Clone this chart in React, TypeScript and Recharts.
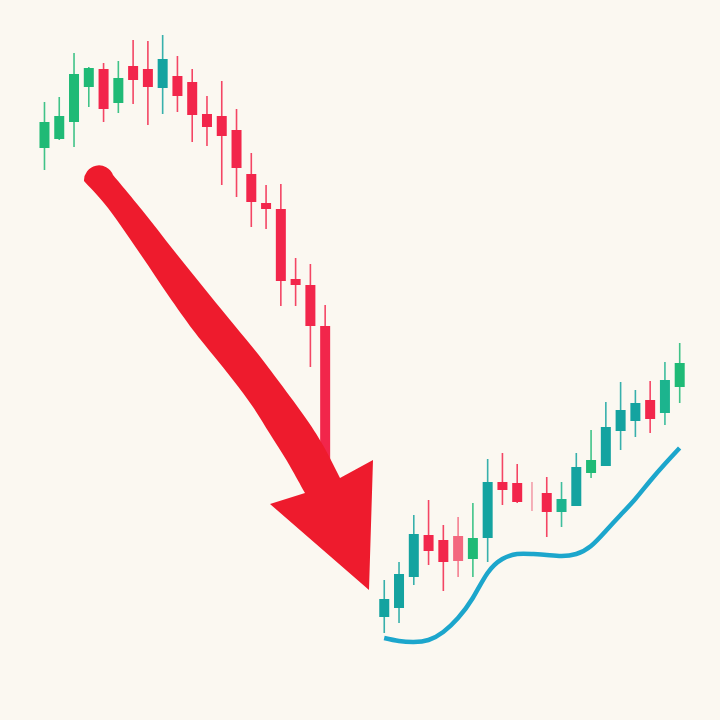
import React from "react";
import { Bar, ComposedChart, Line, XAxis, YAxis } from "recharts";

// 44 slots: a falling run, a short gap, then a recovery
const slots = Array.from({ length: 44 }, (_, i) => `t${i + 1}`);

const opens = [
  572, 581, 598, 633, 651, 617, 654, 651, 632, 644, 638, 606, 604, 590, 546, 517, 511, 441, 435, 394,
  null, null, null,
  103, 112, 143, 185, 180, 184, 161, 182, 238, 237, 224, 227, 208, 214, 247, 254, 289, 299, 320, 307, 333,
];
const closes = [
  598, 604, 646, 652, 611, 642, 640, 633, 661, 624, 605, 593, 584, 552, 518, 511, 439, 435, 394, 255,
  null, null, null,
  121, 146, 186, 169, 158, 159, 182, 238, 230, 218, 224, 208, 221, 253, 260, 293, 310, 317, 301, 340, 357,
];
const highs = [
  618, 623, 667, 653, 657, 659, 680, 679, 685, 664, 651, 624, 639, 611, 567, 535, 536, 462, 456, 415,
  null, null, null,
  140, 158, 205, 220, 195, 203, 217, 261, 267, 256, 238, 243, 238, 267, 290, 318, 338, 330, 339, 358, 377,
];
const lows = [
  550, 580, 573, 613, 598, 607, 616, 595, 606, 608, 578, 574, 535, 523, 493, 491, 414, 414, 353, 255,
  null, null, null,
  87, 97, 135, 155, 129, 143, 143, 158, 215, 217, 209, 183, 193, 214, 242, 254, 270, 283, 287, 295, 317,
];
const tones = [
  "up", "up", "up", "up", "down", "up", "down", "down", "teal", "down", "down", "down", "down", "down",
  "down", "down", "down", "down", "down", "down",
  null, null, null,
  "teal", "teal", "teal", "down", "down", "pink", "up", "teal", "down", "down", "faint", "down", "mid",
  "teal", "up", "teal", "teal", "teal", "down", "mid", "up",
];
// smoothed trend line under the recovery
const trend = [
  null, null, null, null, null, null, null, null, null, null, null, null, null, null, null, null, null,
  null, null, null, null, null, null,
  82, 79, 78, 80, 88, 102, 122, 147, 161, 166, 166, 165, 164, 166, 174, 189, 205, 221, 239, 256, 272,
];

const toneColor = {
  up: "#1fba76",
  teal: "#14a3a0",
  mid: "#1cb48e",
  down: "#f2264b",
  pink: "#f3687f",
  faint: "#f08d9c",
};

const data = slots.map((name, i) => ({
  name,
  open: opens[i],
  close: closes[i],
  high: highs[i],
  low: lows[i],
  tone: tones[i],
  trend: trend[i],
}));

function Candle(props: any) {
  const { x, y, width, height, payload } = props;
  if (!payload || payload.high == null) return null;
  const top = Math.min(y, y + height);
  const h = Math.abs(height);
  const span = payload.high - payload.low;
  const k = span ? h / span : 0;
  const py = (v: number) => top + (payload.high - v) * k;
  const cx = x + width / 2;
  const bodyTop = py(Math.max(payload.open, payload.close));
  const bodyBot = py(Math.min(payload.open, payload.close));
  const color = toneColor[payload.tone] || "#f2264b";
  return (
    <g>
      <line x1={cx} x2={cx} y1={top} y2={top + h} stroke={color} strokeWidth={1.6} strokeOpacity={0.85} />
      {payload.open !== payload.close && (
        <rect x={cx - 5} y={bodyTop} width={10} height={Math.max(bodyBot - bodyTop, 1.5)} fill={color} />
      )}
    </g>
  );
}

// catmull-rom through the outline points, as cubic segments
function smooth(pts: number[][]) {
  let d = "";
  for (let i = 0; i < pts.length - 1; i++) {
    const p0 = pts[i - 1] || pts[i];
    const p1 = pts[i];
    const p2 = pts[i + 1];
    const p3 = pts[i + 2] || p2;
    const c1 = [p1[0] + (p2[0] - p0[0]) / 6, p1[1] + (p2[1] - p0[1]) / 6];
    const c2 = [p2[0] - (p3[0] - p1[0]) / 6, p2[1] - (p3[1] - p1[1]) / 6];
    d += ` C ${c1[0]} ${c1[1]} ${c2[0]} ${c2[1]} ${p2[0]} ${p2[1]}`;
  }
  return d;
}

const rightEdge = [[113, 175], [142, 210], [175, 252], [208, 293], [235, 326], [258, 354], [280, 383], [307, 420], [324, 447], [340, 478]];
const leftEdge = [[305, 493], [287, 461], [270, 434], [253, 407], [233, 380], [213, 355], [193, 330], [168, 295], [141, 255], [108, 208], [84, 181]];

function Arrow() {
  const d =
    `M 113 175` +
    smooth(rightEdge) +
    ` L 373 460 L 369 590 L 270 504 L 305 493` +
    smooth(leftEdge) +
    ` A 15 15 0 0 1 113 175 Z`;
  return (
    <svg width={720} height={720} style={{ position: "absolute", top: 0, left: 0, pointerEvents: "none" }}>
      <path d={d} fill="#ee1b2d" />
    </svg>
  );
}

export default function App() {
  return (
    <div style={{ position: "absolute", top: 0, left: 0, width: 720, height: 720, background: "#fbf8f1" }}>
      <ComposedChart width={720} height={720} data={data} margin={{ top: 0, right: 33, bottom: 0, left: 37 }}>
        <XAxis dataKey="name" hide />
        <YAxis type="number" domain={[0, 720]} hide allowDataOverflow />
        <Bar
          dataKey={(d: any) => (d.high == null ? null : [d.low, d.high])}
          shape={<Candle />}
          isAnimationActive={false}
        />
        <Line
          dataKey="trend"
          type="natural"
          stroke="#1ca6cc"
          strokeWidth={4.5}
          dot={false}
          activeDot={false}
          connectNulls={false}
          isAnimationActive={false}
        />
      </ComposedChart>
      <Arrow />
    </div>
  );
}
